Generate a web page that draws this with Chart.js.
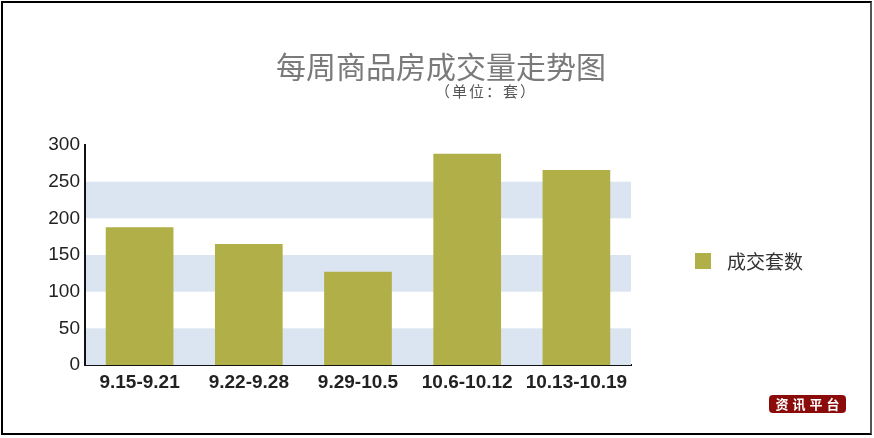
<!DOCTYPE html>
<html>
<head>
<meta charset="utf-8">
<script src="https://cdn.jsdelivr.net/npm/chart.js@4/dist/chart.umd.min.js"></script>
<style>
  html, body { margin: 0; padding: 0; background: #fff; }
  #wrap { position: relative; width: 874px; height: 438px; overflow: hidden; }
  #frame { position: absolute; left: 1px; top: 1px; width: 867px; height: 430px; border: 2px solid #000; border-right: 2px solid #555; pointer-events: none; }
  #badge { position: absolute; left: 769px; top: 395px; width: 77px; height: 18px; background: #8b0a0a; border-radius: 4px;
           color: #fff; font: bold 13px "Noto Sans CJK SC", sans-serif; line-height: 18px; text-align: center; letter-spacing: 4px; text-indent: 4px; }
</style>
</head>
<body>
<div id="wrap">
  <canvas id="c" width="874" height="438"></canvas>
  <div id="frame"></div>
  <div id="badge">资讯平台</div>
</div>
<script>
const categories = ['9.15-9.21', '9.22-9.28', '9.29-10.5', '10.6-10.12', '10.13-10.19'];
const seriesName = '成交套数';
const seriesValues = [188, 165, 127, 288, 266];
const yTicks = [0, 50, 100, 150, 200, 250, 300];
const bandRanges = [[0, 50], [100, 150], [200, 250]];
const titleText = '每周商品房成交量走势图';
const subtitleText = '（单位：套）';

const barColor = '#b0af48';

const decorPlugin = {
  id: 'decor',
  beforeDatasetsDraw(chart) {
    const { ctx, chartArea, scales } = chart;
    ctx.save();
    ctx.fillStyle = '#dbe5f1';
    bandRanges.forEach(([a, b]) => {
      const y1 = scales.y.getPixelForValue(b);
      const y2 = scales.y.getPixelForValue(a);
      ctx.fillRect(chartArea.left + 1, y1, chartArea.right - chartArea.left - 1, y2 - y1);
    });
    ctx.restore();
  },
  afterDraw(chart) {
    const { ctx } = chart;
    ctx.save();
    // title
    ctx.fillStyle = '#7a7a7a';
    ctx.textAlign = 'center';
    ctx.textBaseline = 'middle';
    ctx.font = '30px "Noto Sans CJK SC", sans-serif';
    ctx.fillText(titleText, 441, 67);
    ctx.font = '15px "Noto Sans CJK SC", sans-serif';
    ctx.fillStyle = '#555';
    ctx.letterSpacing = '2px';
    ctx.fillText(subtitleText, 486, 91);
    ctx.letterSpacing = '0px';
    // legend
    const ds = chart.data.datasets[0];
    ctx.fillStyle = ds.backgroundColor;
    ctx.fillRect(695, 253, 16, 16);
    ctx.fillStyle = '#333';
    ctx.textAlign = 'left';
    ctx.font = '19px "Noto Sans CJK SC", sans-serif';
    ctx.fillText(ds.label, 727, 262);
    ctx.restore();
  }
};

new Chart(document.getElementById('c'), {
  type: 'bar',
  data: {
    labels: categories,
    datasets: [{
      label: seriesName,
      data: seriesValues,
      backgroundColor: barColor,
      borderWidth: 0,
      categoryPercentage: 1.0,
      barPercentage: 0.62
    }]
  },
  options: {
    responsive: false,
    animation: false,
    layout: { padding: { left: 0, right: 243, top: 145, bottom: 0 } },
    plugins: {
      legend: { display: false },
      title: { display: false },
      tooltip: { enabled: false }
    },
    scales: {
      x: {
        grid: { display: false, drawTicks: false },
        border: { display: true, color: '#111', width: 2 },
        ticks: {
          padding: 6,
          color: '#222',
          maxRotation: 0,
          autoSkip: false,
          font: { family: 'Liberation Sans, Arial, sans-serif', size: 19, weight: 'bold' }
        },
        afterFit(s) { s.height = 73; }
      },
      y: {
        min: 0,
        max: 300,
        afterBuildTicks(s) { s.ticks = yTicks.map(v => ({ value: v })); },
        grid: { display: false, drawTicks: false },
        border: { display: true, color: '#111', width: 2 },
        ticks: {
          padding: 5,
          color: '#222',
          font: { family: 'Liberation Sans, Arial, sans-serif', size: 19 }
        },
        afterFit(s) { s.width = 85; }
      }
    }
  },
  plugins: [decorPlugin]
});
</script>
</body>
</html>
